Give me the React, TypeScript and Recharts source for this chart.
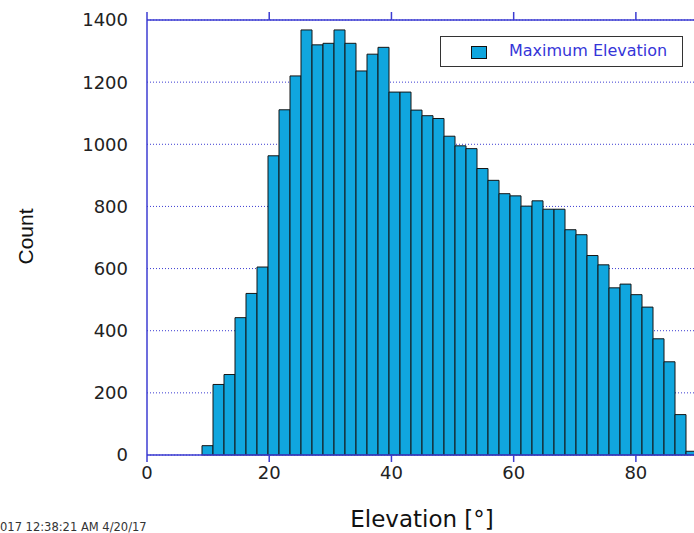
import { BarChart, Bar, XAxis, YAxis, CartesianGrid, Legend } from 'recharts';

// histogram of maximum elevation, 50 bins of 1.8 deg from 0 to 90
const binWidth = 1.8;
const binCenters = Array.from({ length: 50 }, (_, i) => Number((i * binWidth + binWidth / 2).toFixed(2)));
const counts = [
  0, 0, 0, 0, 0, 30, 227, 259, 442, 520,
  605, 963, 1111, 1220, 1368, 1320, 1325, 1368, 1325, 1236,
  1290, 1312, 1168, 1168, 1110, 1092, 1083, 1026, 995, 986,
  922, 884, 841, 834, 801, 818, 791, 791, 725, 709,
  642, 612, 538, 550, 516, 476, 374, 300, 130, 12,
];
const xTicks = [0, 20, 40, 60, 80];
const yTicks = [0, 200, 400, 600, 800, 1000, 1200, 1400];
const seriesName = 'Maximum Elevation';
const timestamp = '017 12:38:21 AM 4/20/17';

const data = binCenters.map((c, i) => ({ center: c, count: counts[i] }));

const AXIS = '#3c3cd2';
const BAR = '#10a6de';
const tickFont = { fontFamily: 'DejaVu Sans', fontSize: 18, fill: '#222' };
const NoLabel = () => <g />;

const LegendBox = () => (
  <div
    style={{
      position: 'relative',
      width: 243,
      height: 31,
      border: '1.5px solid #333',
      boxSizing: 'border-box',
      background: '#fff',
    }}
  >
    <div
      style={{
        position: 'absolute',
        left: 30,
        top: 8.5,
        width: 16,
        height: 13,
        background: BAR,
        border: '1px solid #111',
        boxSizing: 'border-box',
      }}
    />
    <div
      style={{
        position: 'absolute',
        left: 68,
        top: 6,
        fontFamily: 'DejaVu Sans',
        fontSize: 16,
        lineHeight: '16px',
        color: '#3535d8',
        whiteSpace: 'nowrap',
      }}
    >
      {seriesName}
    </div>
  </div>
);

export default function App() {
  return (
    <div style={{ position: 'absolute', left: 0, top: 0, width: 694, height: 533, overflow: 'hidden', background: '#fff' }}>
      <BarChart
        width={720}
        height={533}
        data={data}
        margin={{ top: 10, right: 23, left: 87, bottom: 48 }}
        barCategoryGap={0}
        barGap={0}
      >
        <CartesianGrid
          xAxisId="num"
          yAxisId="left"
          vertical={false}
          stroke={AXIS}
          strokeDasharray="1 2"
        />
        <XAxis
          xAxisId="num"
          dataKey="center"
          type="number"
          domain={[0, 90]}
          ticks={xTicks}
          allowDataOverflow
          height={30}
          tickSize={7}
          tickMargin={4}
          stroke={AXIS}
          strokeWidth={1.5}
          tick={tickFont}
          label={{
            content: ({ viewBox }: any) => (
              <g>
                <text
                  x={viewBox.x + viewBox.width / 2}
                  y={527}
                  textAnchor="middle"
                  fontFamily="DejaVu Sans"
                  fontSize={23}
                  fill="#111"
                >
                  Elevation [°]
                </text>
                <text x={0} y={531} fontFamily="DejaVu Sans" fontSize={11.5} fill="#333">
                  {timestamp}
                </text>
              </g>
            ),
          }}
        />
        <XAxis
          xAxisId="top"
          orientation="top"
          dataKey="center"
          type="number"
          domain={[0, 90]}
          ticks={xTicks}
          allowDataOverflow
          height={10}
          tickSize={8}
          tick={NoLabel}
          stroke={AXIS}
          strokeWidth={1.5}
        />
        <YAxis
          yAxisId="left"
          domain={[0, 1400]}
          ticks={yTicks}
          width={60}
          tickLine={false}
          tickSize={6}
          tickMargin={13}
          stroke={AXIS}
          strokeWidth={1.5}
          tick={tickFont}
          label={{
            content: () => (
              <text
                x={33}
                y={236.5}
                transform="rotate(-90 33 236.5)"
                textAnchor="middle"
                fontFamily="Liberation Sans"
                fontSize={21}
                fill="#111"
              >
                Count
              </text>
            ),
          }}
        />
        <YAxis
          yAxisId="inner"
          domain={[0, 1400]}
          ticks={yTicks}
          mirror
          axisLine={false}
          tick={NoLabel}
          tickSize={10}
          stroke={AXIS}
          strokeWidth={1.5}
        />
        <Legend
          layout="horizontal"
          verticalAlign="middle"
          align="center"
          wrapperStyle={{ left: 440, top: 36, width: 243, height: 31 }}
          content={() => <LegendBox />}
        />
        <Bar
          xAxisId="num"
          yAxisId="left"
          dataKey="count"
          name={seriesName}
          fill={BAR}
          stroke="#151515"
          strokeWidth={1}
          isAnimationActive={false}
        />
      </BarChart>
    </div>
  );
}
